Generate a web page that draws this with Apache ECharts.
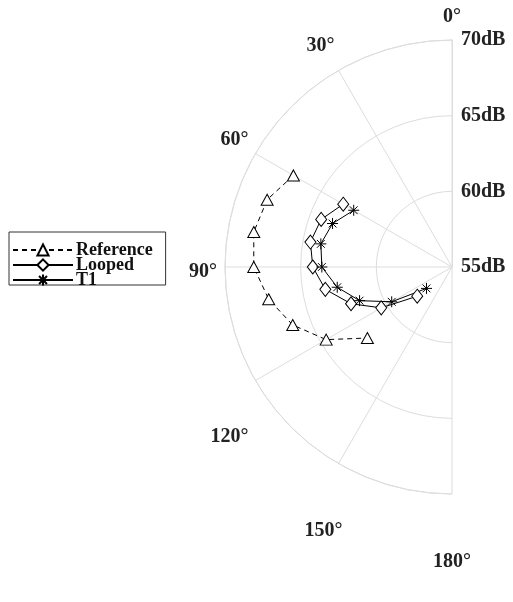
<!DOCTYPE html>
<html>
<head>
<meta charset="utf-8">
<script src="https://cdn.jsdelivr.net/npm/echarts@6/dist/echarts.min.js"></script>
<style>
html,body{margin:0;padding:0;background:#fff;}
#chart{width:513px;height:602px;}
</style>
</head>
<body>
<div id="chart"></div>
<script>
// Data (angle in degrees, level in dB)
var angles = [60, 70, 80, 90, 100, 110, 120, 130];
var referenceDB = [67.1, 68.0, 68.3, 68.1, 67.3, 66.2, 64.6, 62.3];
var loopedDB = [63.3, 64.2, 64.5, 64.2, 63.5, 62.1, 60.4, 58.0];
var t1DB = [62.5, 63.4, 63.8, 63.6, 62.7, 61.5, 59.6, 57.2];
var angleTicks = [0, 30, 60, 90, 120, 150, 180];
var radiusTicks = [55, 60, 65, 70];

var FONT = '"Liberation Serif", "Times New Roman", serif';
function pairs(vals) {
  return vals.map(function (v, i) { return [v, angles[i]]; });
}
var asterisk = 'path://M0,-5L0,5M-5,0L5,0M-3.54,-3.54L3.54,3.54M-3.54,3.54L3.54,-3.54';
var lblBase = {fontFamily: FONT, fontWeight: 'bold', fontSize: 20, color: '#222'};
function rs(pad) { return Object.assign({padding: pad}, lblBase); }

var chart = echarts.init(document.getElementById('chart'));
chart.setOption({
  backgroundColor: '#fff',
  animation: false,
  polar: {center: [452, 267], radius: 227},
  angleAxis: {
    type: 'value', min: angleTicks[0], max: angleTicks[angleTicks.length - 1], interval: 30,
    startAngle: 90, endAngle: 270, clockwise: false,
    axisLine: {show: true, lineStyle: {color: '#dddddd', width: 1}},
    axisTick: {show: false},
    splitLine: {show: true, lineStyle: {color: '#dddddd', width: 1}},
    axisLabel: {
      show: true, margin: 8,
      fontFamily: FONT, fontWeight: 'bold', fontSize: 20, color: '#222',
      formatter: function (v) {
        var key = 'n';
        if (v === 0) key = 'top';
        else if (v === 30) key = 'up';
        else if (v === 90) key = 'mid';
        else if (v === 120) key = 'd1';
        else if (v === 150) key = 'd2';
        else if (v === 180) key = 'd3';
        return '{' + key + '|' + v + '°}';
      },
      rich: {
        n: rs([0, 0, 0, 0]),
        top: rs([0, 0, 5, 0]),
        up: rs([0, 0, 8, 0]),
        mid: rs([10, 0, 0, 0]),
        d1: rs([42, 0, 0, 0]),
        d2: rs([50, -8, 0, 0]),
        d3: rs([50, 0, 0, 0])
      }
    }
  },
  radiusAxis: {
    type: 'value', min: radiusTicks[0], max: radiusTicks[radiusTicks.length - 1], interval: 5,
    axisLine: {show: true, lineStyle: {color: '#dddddd', width: 1}},
    axisTick: {show: false},
    splitLine: {show: true, lineStyle: {color: '#dddddd', width: 1}},
    axisLabel: {
      show: true, margin: -9, align: 'left', verticalAlign: 'middle',
      fontFamily: FONT, fontWeight: 'bold', fontSize: 20, color: '#222',
      formatter: function (v) { return v + 'dB'; }
    }
  },
  legend: {
    show: true, orient: 'vertical', left: 9, top: 232,
    padding: [9, 13, -4, 3],
    backgroundColor: '#fff', borderColor: '#333', borderWidth: 1, borderRadius: 0,
    itemWidth: 60, itemHeight: 14, itemGap: -3,
    textStyle: {fontFamily: FONT, fontWeight: 'bold', fontSize: 18, color: '#111', padding: [0, 0, 0, -2]},
    data: ['Reference', 'Looped', 'T1']
  },
  series: [
    {
      name: 'Reference', type: 'line', coordinateSystem: 'polar',
      data: pairs(referenceDB),
      symbol: 'triangle', symbolSize: [12, 11],
      lineStyle: {color: '#000', width: 1, type: [5, 4]},
      itemStyle: {color: '#fff', borderColor: '#000', borderWidth: 1}
    },
    {
      name: 'Looped', type: 'line', coordinateSystem: 'polar',
      data: pairs(loopedDB),
      symbol: 'diamond', symbolSize: [11, 14],
      lineStyle: {color: '#000', width: 1},
      itemStyle: {color: '#fff', borderColor: '#000', borderWidth: 1}
    },
    {
      name: 'T1', type: 'line', coordinateSystem: 'polar',
      data: pairs(t1DB),
      symbol: asterisk, symbolSize: 11,
      lineStyle: {color: '#000', width: 1},
      itemStyle: {color: '#000', borderColor: '#000', borderWidth: 1}
    }
  ]
});
</script>
</body>
</html>
